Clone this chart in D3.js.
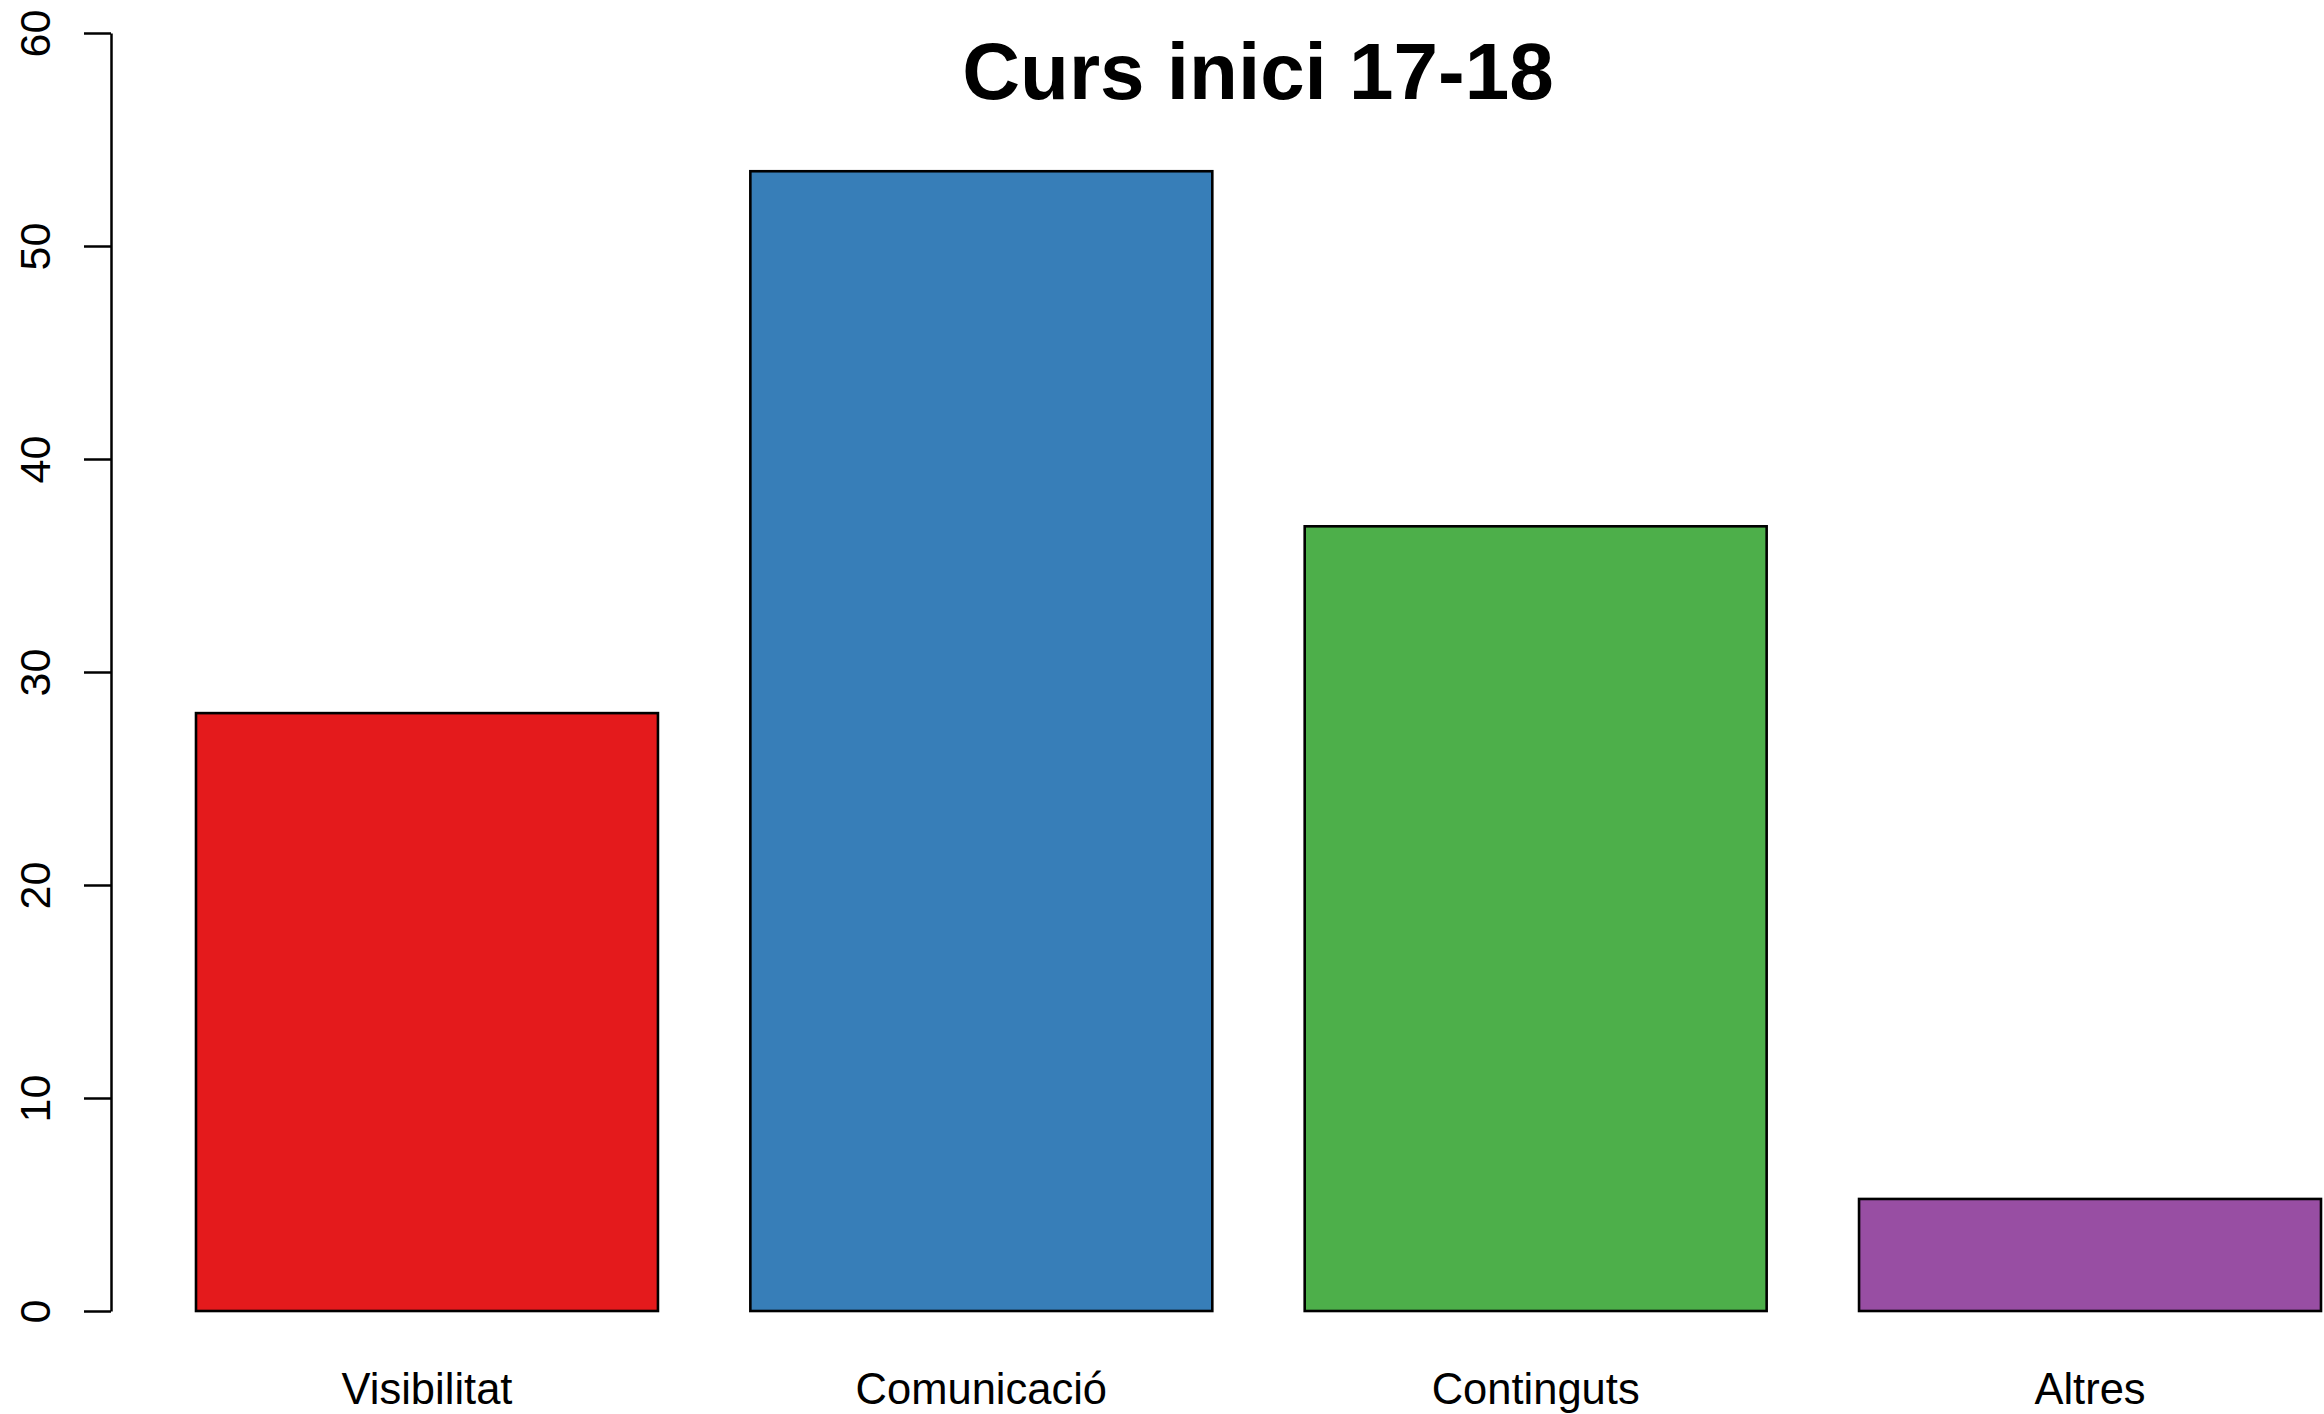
<!DOCTYPE html>
<html>
<head>
<meta charset="utf-8">
<script src="https://cdn.jsdelivr.net/npm/d3@7"></script>
<style>
  html, body { margin: 0; padding: 0; background: #ffffff; }
  svg { display: block; font-family: "Liberation Sans", Arial, sans-serif; }
</style>
</head>
<body>
<svg id="chart" width="2324" height="1414"></svg>
<script>
// Categories and their values (percent of responses)
const categories = ["Visibilitat", "Comunicació", "Continguts", "Altres"];
const values = [28.07, 53.51, 36.84, 5.26];
const barColors = ["#E41A1C", "#377EB8", "#4DAF4A", "#984EA3"];
const yTicks = [0, 10, 20, 30, 40, 50, 60];
const title = "Curs inici 17-18";

const svg = d3.select("#chart");
const W = 2324, H = 1414;

svg.append("rect").attr("width", W).attr("height", H).attr("fill", "#ffffff");

const axisX = 111;

const y = d3.scaleLinear().domain([0, 60]).range([1311, 33]);

const x = d3.scaleBand()
  .domain(categories)
  .range([196, 2321])
  .paddingInner(1 / 6)
  .paddingOuter(0);

// Bars
svg.append("g")
  .selectAll("rect")
  .data(categories)
  .join("rect")
  .attr("x", d => x(d))
  .attr("y", (d, i) => y(values[i]))
  .attr("width", x.bandwidth())
  .attr("height", (d, i) => y(0) - y(values[i]))
  .attr("fill", (d, i) => barColors[i])
  .attr("stroke", "#000")
  .attr("stroke-width", 2.6);

// Y axis with rotated tick labels
const yAxis = svg.append("g")
  .attr("transform", `translate(${axisX},0)`)
  .call(d3.axisLeft(y).tickValues(yTicks).tickSize(27).tickSizeOuter(0).tickFormat(d3.format("d")));

yAxis.select(".domain").attr("stroke", "#000").attr("stroke-width", 2.5);
yAxis.selectAll(".tick line").attr("stroke", "#000").attr("stroke-width", 2.5);
yAxis.selectAll(".tick text")
  .attr("transform", "rotate(-90)")
  .attr("x", 0)
  .attr("y", -61)
  .attr("dy", 0)
  .attr("text-anchor", "middle")
  .attr("fill", "#000")
  .style("font-family", "'Liberation Sans', Arial, sans-serif")
  .style("font-size", "43px");

// Category labels under the bars
svg.append("g")
  .selectAll("text")
  .data(categories)
  .join("text")
  .attr("x", d => x(d) + x.bandwidth() / 2)
  .attr("y", 1404)
  .attr("text-anchor", "middle")
  .attr("fill", "#000")
  .style("font-size", "43.5px")
  .text(d => d);

// Title
svg.append("text")
  .attr("x", 1258)
  .attr("y", 99)
  .attr("text-anchor", "middle")
  .attr("fill", "#000")
  .style("font-size", "80px")
  .style("font-weight", "bold")
  .text(title);
</script>
</body>
</html>
